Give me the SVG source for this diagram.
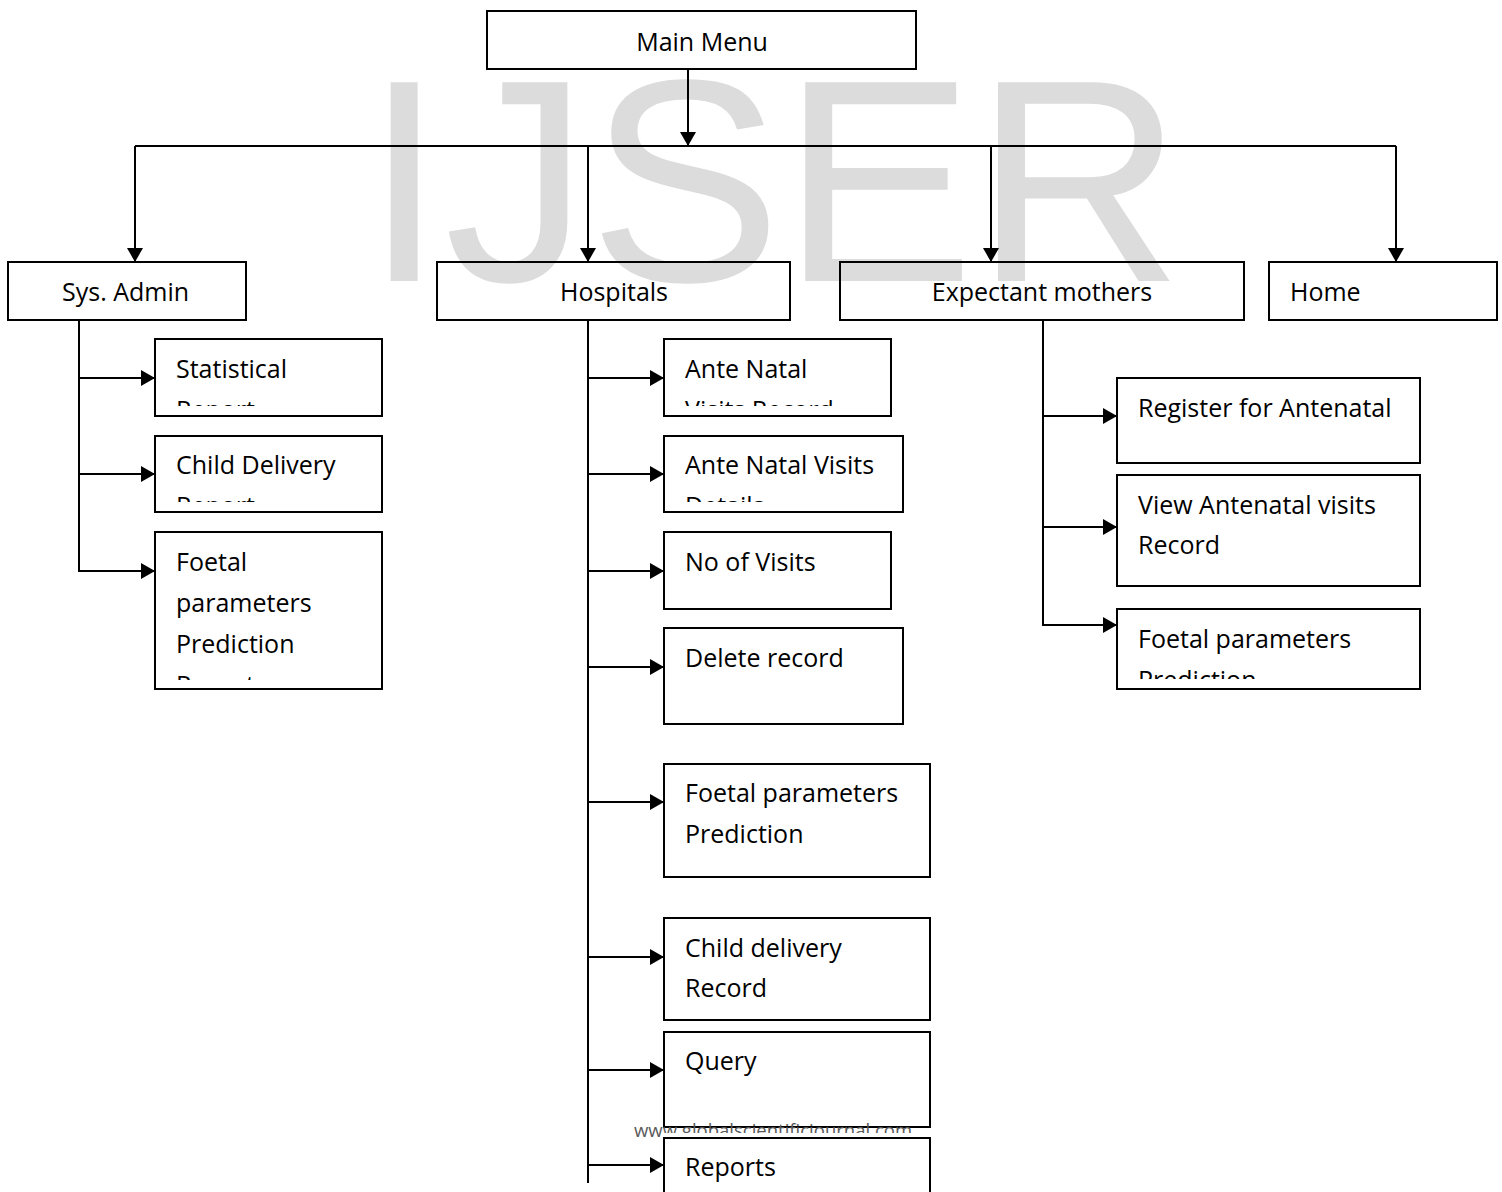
<svg xmlns="http://www.w3.org/2000/svg" width="1502" height="1192" viewBox="0 0 1502 1192">
<style>
.box{fill:none;stroke:#000;stroke-width:2}
.t{font-family:"Open Sans","Liberation Sans",sans-serif;font-size:25px;fill:#000}
.c{stroke:#000;stroke-width:2;fill:none}
.wm{font-family:"Liberation Sans",Arial,sans-serif;font-size:289px;fill:#dcdcdc}
.ft{font-family:"Open Sans","Liberation Sans",sans-serif;font-size:18.5px;fill:#595959}
</style>
<defs>
<marker id="ah" markerUnits="userSpaceOnUse" markerWidth="16" markerHeight="16" refX="14" refY="8" orient="auto">
<path d="M0,0 L14,8 L0,16 z" fill="#000"/>
</marker>
<clipPath id="c1"><rect x="155" y="339" width="227" height="67"/></clipPath>
<clipPath id="c2"><rect x="155" y="436" width="227" height="66"/></clipPath>
<clipPath id="c3"><rect x="155" y="532" width="227" height="148"/></clipPath>
<clipPath id="c4"><rect x="664" y="339" width="227" height="67"/></clipPath>
<clipPath id="c5"><rect x="664" y="436" width="239" height="66"/></clipPath>
<clipPath id="c6"><rect x="1117" y="609" width="303" height="70"/></clipPath>
<clipPath id="cf"><rect x="600" y="1100" width="64" height="50"/><rect x="664" y="1100" width="300" height="33"/></clipPath>
</defs>
<rect width="1502" height="1192" fill="#fff"/>
<text class="wm" x="364" y="281">IJSER</text>

<g id="connectors">
<line class="c" x1="688" y1="69" x2="688" y2="146" marker-end="url(#ah)"/>
<line class="c" x1="135" y1="146" x2="1396" y2="146"/>
<line class="c" x1="135" y1="146" x2="135" y2="262" marker-end="url(#ah)"/>
<line class="c" x1="588" y1="146" x2="588" y2="262" marker-end="url(#ah)"/>
<line class="c" x1="991" y1="146" x2="991" y2="262" marker-end="url(#ah)"/>
<line class="c" x1="1396" y1="146" x2="1396" y2="262" marker-end="url(#ah)"/>
<line class="c" x1="79" y1="320" x2="79" y2="572"/>
<line class="c" x1="78" y1="378" x2="155" y2="378" marker-end="url(#ah)"/>
<line class="c" x1="78" y1="474" x2="155" y2="474" marker-end="url(#ah)"/>
<line class="c" x1="78" y1="571" x2="155" y2="571" marker-end="url(#ah)"/>
<line class="c" x1="588" y1="320" x2="588" y2="1183"/>
<line class="c" x1="588" y1="378" x2="664" y2="378" marker-end="url(#ah)"/>
<line class="c" x1="588" y1="474" x2="664" y2="474" marker-end="url(#ah)"/>
<line class="c" x1="588" y1="571" x2="664" y2="571" marker-end="url(#ah)"/>
<line class="c" x1="588" y1="667" x2="664" y2="667" marker-end="url(#ah)"/>
<line class="c" x1="588" y1="802" x2="664" y2="802" marker-end="url(#ah)"/>
<line class="c" x1="588" y1="957" x2="664" y2="957" marker-end="url(#ah)"/>
<line class="c" x1="588" y1="1070" x2="664" y2="1070" marker-end="url(#ah)"/>
<line class="c" x1="588" y1="1165" x2="664" y2="1165" marker-end="url(#ah)"/>
<line class="c" x1="1043" y1="320" x2="1043" y2="626"/>
<line class="c" x1="1042" y1="416" x2="1117" y2="416" marker-end="url(#ah)"/>
<line class="c" x1="1042" y1="527" x2="1117" y2="527" marker-end="url(#ah)"/>
<line class="c" x1="1042" y1="625" x2="1117" y2="625" marker-end="url(#ah)"/>
</g>

<g id="main-menu"><rect class="box" x="487" y="11" width="429" height="58"/><text class="t" x="702" y="51" text-anchor="middle">Main Menu</text></g>
<g id="sys-admin"><rect class="box" x="8" y="262" width="238" height="58"/><text class="t" x="62" y="301">Sys. Admin</text></g>
<g id="hospitals"><rect class="box" x="437" y="262" width="353" height="58"/><text class="t" x="614" y="301" text-anchor="middle">Hospitals</text></g>
<g id="expectant-mothers"><rect class="box" x="840" y="262" width="404" height="58"/><text class="t" x="1042" y="301" text-anchor="middle">Expectant mothers</text></g>
<g id="home"><rect class="box" x="1269" y="262" width="228" height="58"/><text class="t" x="1290" y="301">Home</text></g>

<g id="statistical-report"><rect class="box" x="155" y="339" width="227" height="77"/><g clip-path="url(#c1)"><text class="t" x="176" y="378">Statistical</text><text class="t" x="176" y="419">Report</text></g></g>
<g id="child-delivery-report"><rect class="box" x="155" y="436" width="227" height="76"/><g clip-path="url(#c2)"><text class="t" x="176" y="474">Child Delivery</text><text class="t" x="176" y="515">Report</text></g></g>
<g id="foetal-report"><rect class="box" x="155" y="532" width="227" height="157"/><g clip-path="url(#c3)"><text class="t" x="176" y="571">Foetal</text><text class="t" x="176" y="612">parameters</text><text class="t" x="176" y="653">Prediction</text><text class="t" x="176" y="694">Report</text></g></g>

<g id="ante-natal-visits-record"><rect class="box" x="664" y="339" width="227" height="77"/><g clip-path="url(#c4)"><text class="t" x="685" y="378">Ante Natal</text><text class="t" x="685" y="419">Visits Record</text></g></g>
<g id="ante-natal-visits-details"><rect class="box" x="664" y="436" width="239" height="76"/><g clip-path="url(#c5)"><text class="t" x="685" y="474">Ante Natal Visits</text><text class="t" x="685" y="515">Details</text></g></g>
<g id="no-of-visits"><rect class="box" x="664" y="532" width="227" height="77"/><text class="t" x="685" y="571">No of Visits</text></g>
<g id="delete-record"><rect class="box" x="664" y="628" width="239" height="96"/><text class="t" x="685" y="667">Delete record</text></g>
<g id="hosp-foetal"><rect class="box" x="664" y="764" width="266" height="113"/><text class="t" x="685" y="802">Foetal parameters</text><text class="t" x="685" y="843">Prediction</text></g>
<g id="child-delivery-record"><rect class="box" x="664" y="918" width="266" height="102"/><text class="t" x="685" y="957">Child delivery</text><text class="t" x="685" y="997">Record</text></g>
<g id="query"><rect class="box" x="664" y="1032" width="266" height="95"/><text class="t" x="685" y="1070">Query</text></g>
<g id="reports"><rect class="box" x="664" y="1138" width="266" height="70"/><text class="t" x="685" y="1176">Reports</text></g>

<g id="register-antenatal"><rect class="box" x="1117" y="378" width="303" height="85"/><text class="t" x="1138" y="417">Register for Antenatal</text></g>
<g id="view-antenatal"><rect class="box" x="1117" y="475" width="303" height="111"/><text class="t" x="1138" y="514">View Antenatal visits</text><text class="t" x="1138" y="554">Record</text></g>
<g id="mother-foetal"><rect class="box" x="1117" y="609" width="303" height="80"/><g clip-path="url(#c6)"><text class="t" x="1138" y="648">Foetal parameters</text><text class="t" x="1138" y="689">Prediction</text></g></g>

<text class="ft" x="634" y="1137" clip-path="url(#cf)">www.globalscientificjournal.com</text>
</svg>
